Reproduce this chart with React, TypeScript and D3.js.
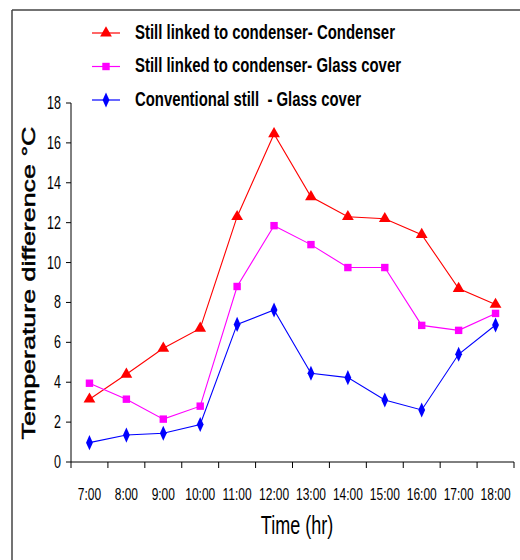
import * as d3 from "d3";
import React from "react";

const times = ["7:00", "8:00", "9:00", "10:00", "11:00", "12:00", "13:00", "14:00", "15:00", "16:00", "17:00", "18:00"];
const condenser = [3.15, 4.4, 5.7, 6.7, 12.3, 16.45, 13.3, 12.3, 12.2, 11.4, 8.7, 7.9];
const glassLinked = [3.95, 3.15, 2.15, 2.8, 8.8, 11.85, 10.9, 9.75, 9.75, 6.85, 6.6, 7.45];
const glassConv = [0.97, 1.35, 1.44, 1.88, 6.9, 7.62, 4.45, 4.23, 3.11, 2.61, 5.4, 6.87];
const yTicks = [0, 2, 4, 6, 8, 10, 12, 14, 16, 18];

const seriesNames = [
  "Still linked to condenser- Condenser",
  "Still linked to condenser- Glass cover",
  "Conventional still  - Glass cover",
];
const colors = ["#ff0000", "#ff00ff", "#0000ff"];
const shapes = [d3.symbolTriangle, d3.symbolSquare, d3.symbolDiamond];

const W = 520;
const H = 560;
const margin = { top: 103, left: 71, right: 3, bottom: 98 };
const SY = 1.4; // the reference text is stretched vertically

const font = "Liberation Sans, Arial, sans-serif";

// text helper with vertical stretch
const SText: React.FC<{ x: number; y: number; size: number; anchor?: string; bold?: boolean; len?: number; children: React.ReactNode }> = ({ x, y, size, anchor = "start", bold, len, children }) => (
  <text
    transform={`translate(${x},${y}) scale(1,${SY})`}
    fontFamily={font}
    fontSize={size}
    fontWeight={bold ? "bold" : "normal"}
    textAnchor={anchor}
    textLength={len}
    lengthAdjust={len ? "spacingAndGlyphs" : undefined}
    fill="#000"
    style={{ whiteSpace: "pre" }}
  >
    {children}
  </text>
);

const App: React.FC = () => {
  const x = d3.scaleBand<string>().domain(times).range([margin.left, W - margin.right - 3]);
  const y = d3.scaleLinear().domain([0, 18]).range([H - margin.bottom, margin.top]);
  const cx = (t: string) => (x(t) as number) + x.bandwidth() / 2;

  const line = d3
    .line<number>()
    .x((_, i) => cx(times[i]))
    .y((d) => y(d));

  const all = [condenser, glassLinked, glassConv];
  const sym = (i: number) => d3.symbol().type(shapes[i]).size(i === 0 ? 60 : i === 1 ? 55 : 50)();
  const symScale = (i: number) => (i === 2 ? "0.9,1.15" : "1,1");

  const xBoundaries = [...times.map((t) => x(t) as number), x.range()[1]];
  const y0 = y(0);

  return (
    <svg width={W} height={H} style={{ position: "absolute", left: 0, top: 0, background: "#fff" }}>
      <rect x={0} y={0} width={W} height={H} fill="#fff" />
      {/* frame */}
      <line x1={12} y1={10} x2={12} y2={H} stroke="#444" strokeWidth={1.5} />
      <line x1={12} y1={10} x2={W} y2={10} stroke="#444" strokeWidth={1.5} />

      {/* legend */}
      {seriesNames.map((name, i) => {
        const ly = 33 + i * 33.5;
        return (
          <g key={name}>
            <line x1={92} x2={120} y1={ly} y2={ly} stroke={colors[i]} strokeWidth={1.2} />
            <path d={sym(i) as string} transform={`translate(106,${ly}) scale(${symScale(i)})`} fill={colors[i]} />
            <SText x={135} y={ly + 5.5} size={14} bold len={[260, 266, 226][i]}>
              {name}
            </SText>
          </g>
        );
      })}

      {/* y axis */}
      <line x1={margin.left} x2={margin.left} y1={y(18)} y2={y0} stroke="#000" />
      {yTicks.map((t) => (
        <g key={t}>
          <line x1={margin.left - 5} x2={margin.left} y1={y(t)} y2={y(t)} stroke="#000" />
          <SText x={margin.left - 10} y={y(t) + 6} size={12.5} anchor="end">
            {t}
          </SText>
        </g>
      ))}

      {/* x axis */}
      <line x1={margin.left} x2={x.range()[1]} y1={y0} y2={y0} stroke="#000" />
      {xBoundaries.map((b, i) => (
        <line key={i} x1={b} x2={b} y1={y0} y2={y0 + 6} stroke="#000" />
      ))}
      {times.map((t) => (
        <SText key={t} x={cx(t)} y={500} size={12} anchor="middle">
          {t}
        </SText>
      ))}

      {/* axis titles */}
      <SText x={297} y={534} size={18} anchor="middle">
        Time (hr)
      </SText>
      <text
        transform={`translate(35,283) rotate(-90)`}
        fontFamily={font}
        fontSize={19}
        fontWeight="normal"
        stroke="#000"
        strokeWidth={0.5}
        textAnchor="middle"
        textLength={313}
        lengthAdjust="spacingAndGlyphs"
        fill="#000"
      >
        Temperature difference °C
      </text>

      {/* series */}
      {all.map((vals, i) => (
        <g key={i}>
          <path d={line(vals) as string} fill="none" stroke={colors[i]} strokeWidth={1.1} />
          {vals.map((v, j) => (
            <path
              key={j}
              d={sym(i) as string}
              transform={`translate(${cx(times[j])},${y(v)}) scale(${symScale(i)})`}
              fill={colors[i]}
            />
          ))}
        </g>
      ))}
    </svg>
  );
};

export default App;
